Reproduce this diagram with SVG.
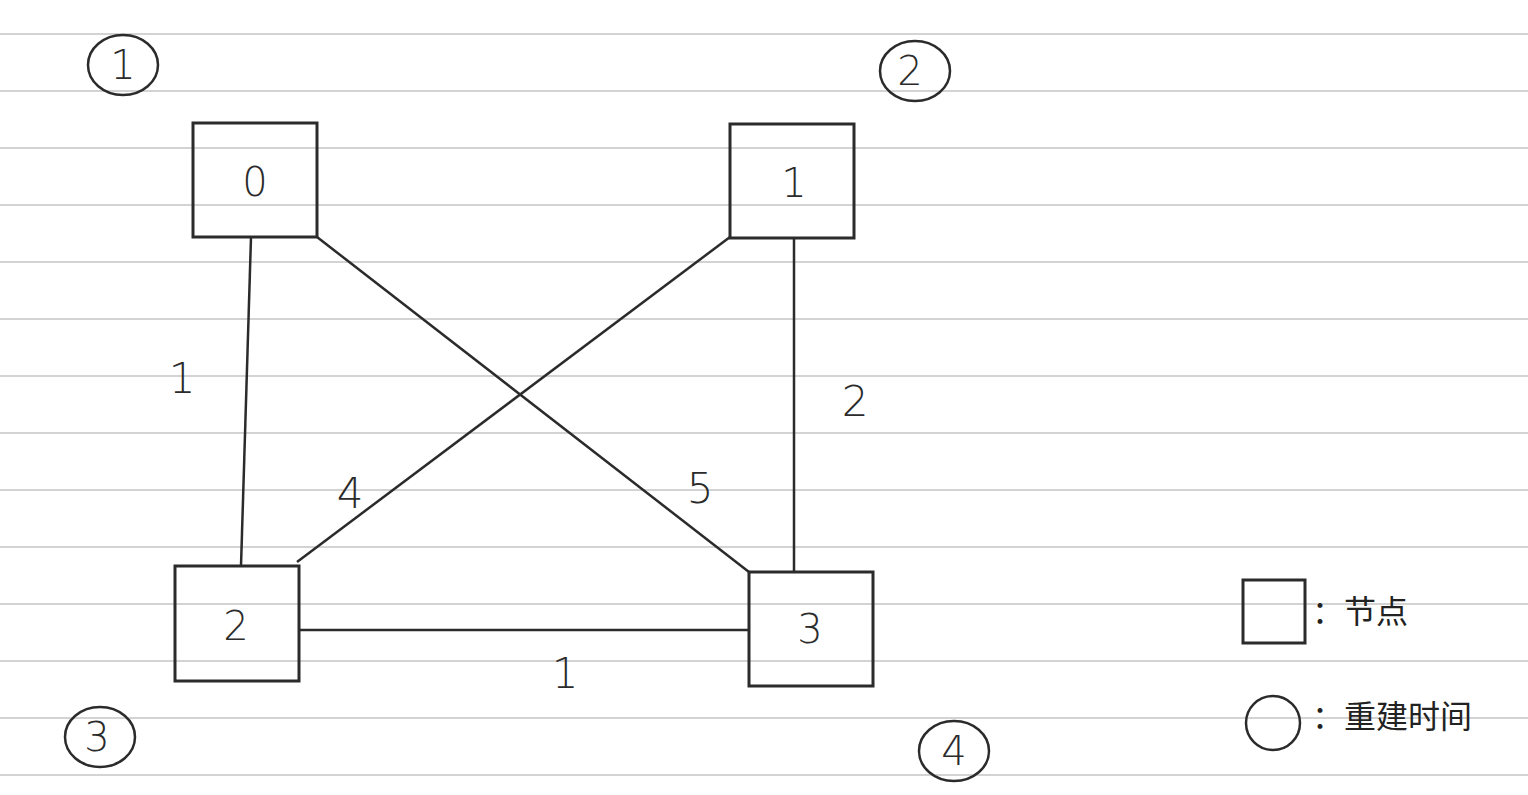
<svg xmlns="http://www.w3.org/2000/svg" width="1528" height="795" viewBox="0 0 1528 795">
<style>
.rule{stroke:#c4c4c4;stroke-width:1.5}
.box{fill:none;stroke:#2b2b2b;stroke-width:3}
.edge{stroke:#2b2b2b;stroke-width:2.5;fill:none}
.ring{fill:none;stroke:#2b2b2b;stroke-width:2.5}
.num{font-family:"DejaVu Sans","Liberation Sans",sans-serif;font-weight:300;font-size:40px;fill:#2b2b2b;text-anchor:middle}
.lab{font-family:"DejaVu Sans","Liberation Sans",sans-serif;font-weight:300;font-size:42px;fill:#2b2b2b;text-anchor:middle}
.leg{font-family:"Noto Sans CJK SC",sans-serif;font-size:32px;fill:#222}
</style>
<rect width="1528" height="795" fill="#ffffff"/>
<g id="rules">
<line class="rule" x1="0" y1="34" x2="1528" y2="34"/>
<line class="rule" x1="0" y1="91" x2="1528" y2="91"/>
<line class="rule" x1="0" y1="148" x2="1528" y2="148"/>
<line class="rule" x1="0" y1="205" x2="1528" y2="205"/>
<line class="rule" x1="0" y1="262" x2="1528" y2="262"/>
<line class="rule" x1="0" y1="319" x2="1528" y2="319"/>
<line class="rule" x1="0" y1="376" x2="1528" y2="376"/>
<line class="rule" x1="0" y1="433" x2="1528" y2="433"/>
<line class="rule" x1="0" y1="490" x2="1528" y2="490"/>
<line class="rule" x1="0" y1="547" x2="1528" y2="547"/>
<line class="rule" x1="0" y1="604" x2="1528" y2="604"/>
<line class="rule" x1="0" y1="661" x2="1528" y2="661"/>
<line class="rule" x1="0" y1="718" x2="1528" y2="718"/>
<line class="rule" x1="0" y1="775" x2="1528" y2="775"/>
</g>
<g id="connectors">
<line class="edge" x1="251" y1="237" x2="241" y2="566"/>
<line class="edge" x1="317" y1="237" x2="749" y2="572"/>
<line class="edge" x1="730" y1="237" x2="297" y2="562"/>
<line class="edge" x1="794" y1="237" x2="794" y2="573"/>
<line class="edge" x1="299" y1="630" x2="749" y2="630"/>
<text class="lab" x="182" y="393">1</text>
<text class="lab" x="855" y="416">2</text>
<text class="lab" x="350" y="508">4</text>
<text class="lab" x="700" y="503">5</text>
<text class="lab" x="565" y="688">1</text>
</g>
<g id="node0"><rect class="box" x="193" y="123" width="124" height="114"/><text class="num" x="255" y="196">0</text></g>
<g id="node1"><rect class="box" x="730" y="124" width="124" height="114"/><text class="num" x="794" y="197">1</text></g>
<g id="node2"><rect class="box" x="175" y="566" width="124" height="115"/><text class="num" x="236" y="640">2</text></g>
<g id="node3"><rect class="box" x="749" y="572" width="124" height="114"/><text class="num" x="810" y="643">3</text></g>
<g id="t1"><ellipse class="ring" cx="123" cy="65" rx="35" ry="30"/><text class="num" x="123" y="79">1</text></g>
<g id="t2"><ellipse class="ring" cx="915" cy="71" rx="35" ry="30"/><text class="num" x="910" y="85">2</text></g>
<g id="t3"><ellipse class="ring" cx="100" cy="737" rx="35" ry="30"/><text class="num" x="97" y="751">3</text></g>
<g id="t4"><ellipse class="ring" cx="954" cy="751" rx="35" ry="30"/><text class="num" x="954" y="765">4</text></g>
<g id="legend">
<rect class="box" x="1243" y="580" width="62" height="63"/>
<text class="leg" x="1312" y="623">：节点</text>
<circle class="ring" cx="1273" cy="723" r="27"/>
<text class="leg" x="1312" y="728">：重建时间</text>
</g>
</svg>
